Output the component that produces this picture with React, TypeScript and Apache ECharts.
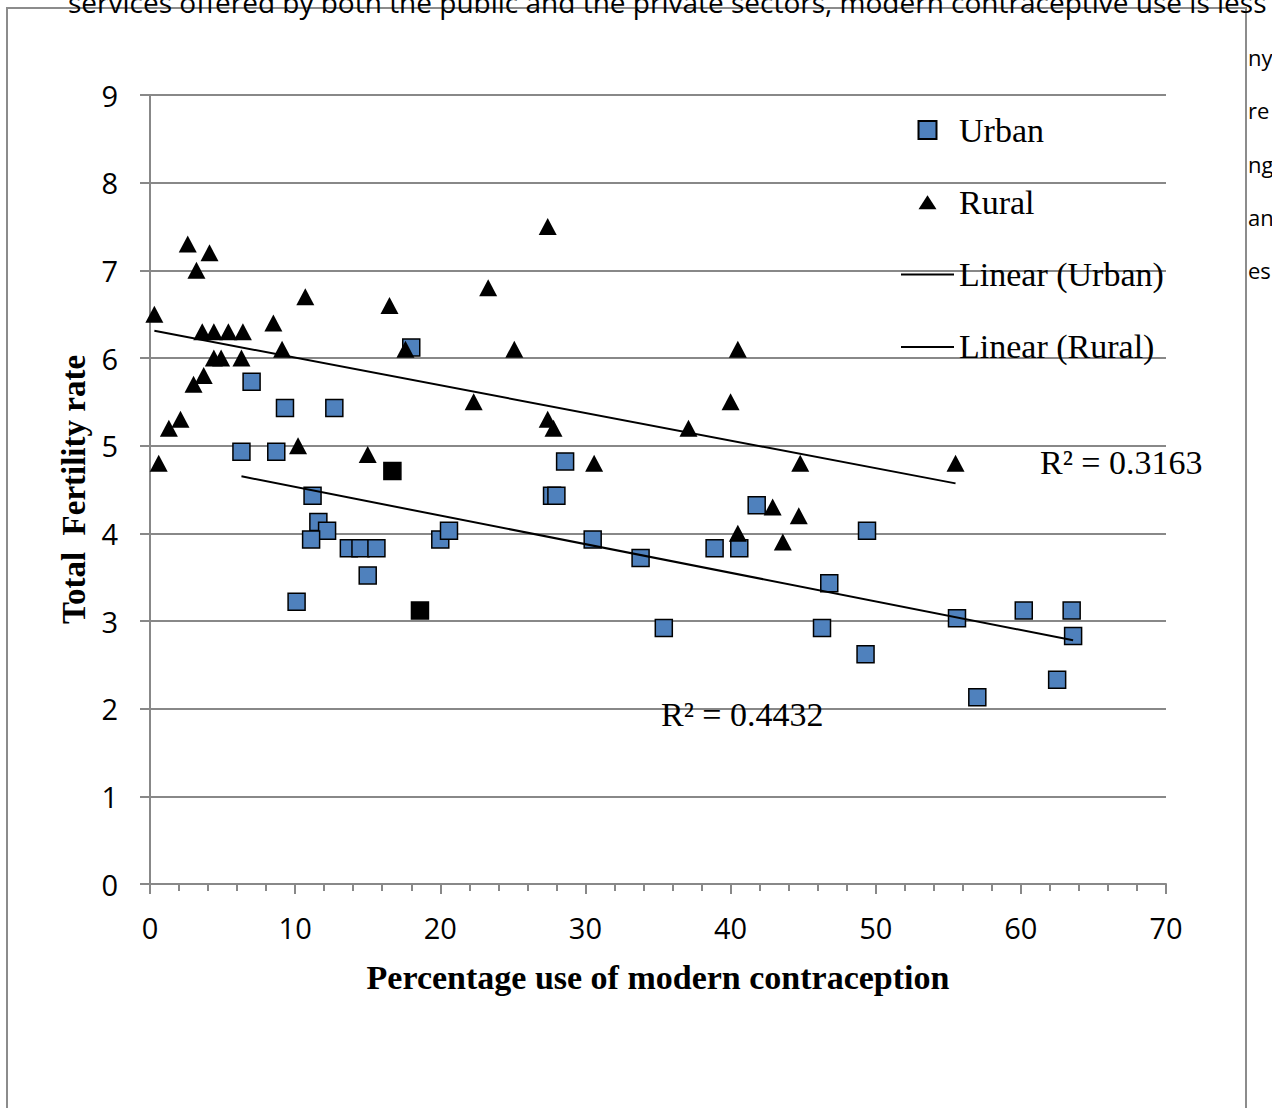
import React, { useEffect, useRef } from "react";
import * as echarts from "echarts";

// ---- data ----
const urbanPoints: number[][] = [
  [18.0, 6.12], [7.0, 5.73], [9.3, 5.43], [12.7, 5.43], [6.3, 4.93], [8.7, 4.93],
  [11.2, 4.43], [11.6, 4.13], [12.2, 4.03], [11.1, 3.93], [13.7, 3.83], [14.5, 3.83],
  [15.6, 3.83], [15.0, 3.52], [10.1, 3.22], [20.0, 3.93], [20.6, 4.03], [28.6, 4.82],
  [27.7, 4.43], [28.0, 4.43], [30.5, 3.93], [33.8, 3.72], [35.4, 2.92], [38.9, 3.83],
  [40.6, 3.83], [41.8, 4.32], [49.4, 4.03], [46.8, 3.43], [46.3, 2.92], [49.3, 2.62],
  [55.6, 3.03], [57.0, 2.13], [60.2, 3.12], [63.5, 3.12], [63.6, 2.83], [62.5, 2.33],
];
// two Urban points drawn in black in the reference
const urbanHighlighted: number[][] = [[16.7, 4.71], [18.6, 3.12]];

const ruralPoints: number[][] = [
  [2.6, 7.3], [4.1, 7.2], [3.2, 7.0], [0.3, 6.5], [10.7, 6.7], [16.5, 6.6],
  [3.6, 6.3], [4.4, 6.3], [5.4, 6.3], [6.4, 6.3], [8.5, 6.4], [9.1, 6.1],
  [17.6, 6.1], [4.4, 6.0], [4.9, 6.0], [6.3, 6.0], [3.7, 5.8], [3.0, 5.7],
  [2.1, 5.3], [1.3, 5.2], [0.6, 4.8], [10.2, 5.0], [15.0, 4.9], [27.4, 7.5],
  [23.3, 6.8], [25.1, 6.1], [22.3, 5.5], [27.4, 5.3], [27.8, 5.2], [37.1, 5.2],
  [30.6, 4.8], [40.5, 6.1], [40.0, 5.5], [44.8, 4.8], [55.5, 4.8], [40.5, 4.0],
  [42.9, 4.3], [44.7, 4.2], [43.6, 3.9],
];

// trendline end points as drawn in the reference
const urbanTrend: number[][] = [[6.3, 4.65], [63.6, 2.78]];
const ruralTrend: number[][] = [[0.3, 6.31], [55.5, 4.57]];
const urbanR2 = "0.4432";
const ruralR2 = "0.3163";

const seriesNames = ["Urban", "Rural", "Linear (Urban)", "Linear (Rural)"];
const xAxisTitle = "Percentage use of modern contraception";
const yAxisTitle = "Total  Fertility rate";
const pageTextTop =
  "services offered by both the public and the private sectors, modern contraceptive use is less";
const pageTextRight = ["ny", "re", "ng", "an", "es"];

const SERIF = "'Liberation Serif', 'Times New Roman', serif";
const SANS = "'Open Sans', 'Noto Sans', sans-serif";
const GRID_GRAY = "#888888";

export default function App() {
  const ref = useRef<HTMLDivElement>(null);

  useEffect(() => {
    document.body.style.margin = "0";
    if (!ref.current) return;
    const chart = echarts.init(ref.current, null, { renderer: "svg" });

    const graphic: any[] = [
      {
        type: "rect",
        z: -1,
        shape: { x: 7, y: 8, width: 1239, height: 1130 },
        style: { fill: "#ffffff", stroke: "#8c8c8c", lineWidth: 2 },
        silent: true,
      },
      {
        type: "text",
        x: 68,
        y: 2,
        z: 1,
        style: {
          text: pageTextTop,
          fontFamily: SANS,
          fontSize: 28,
          fill: "#000",
          align: "left",
          verticalAlign: "middle",
        },
      },
      ...pageTextRight.map((t, i) => ({
        type: "text",
        x: 1248,
        y: 57 + i * 53.3,
        z: 1,
        style: {
          text: t,
          fontFamily: SANS,
          fontSize: 22,
          fill: "#000",
          align: "left",
          verticalAlign: "middle",
        },
      })),
      {
        type: "text",
        x: 1040,
        y: 462,
        z: 10,
        style: {
          text: "R² = " + ruralR2,
          fontFamily: SERIF,
          fontSize: 34,
          fill: "#000",
          align: "left",
          verticalAlign: "middle",
        },
      },
      {
        type: "text",
        x: 661,
        y: 714,
        z: 10,
        style: {
          text: "R² = " + urbanR2,
          fontFamily: SERIF,
          fontSize: 34,
          fill: "#000",
          align: "left",
          verticalAlign: "middle",
        },
      },
    ];

    const option: any = {
      animation: false,
      backgroundColor: "#ffffff",
      grid: { left: 150, top: 95, width: 1016, height: 789, containLabel: false },
      legend: {
        orient: "vertical",
        left: 900,
        top: 113,
        padding: 0,
        itemWidth: 53,
        itemHeight: 18,
        itemGap: 38.3,
        symbolKeepAspect: true,
        data: [
          { name: seriesNames[0], icon: "path://M0,0h18v18h-18z" },
          { name: seriesNames[1], icon: "path://M0,0M18,18M0,16L9,2L18,16Z" },
          { name: seriesNames[2], itemStyle: { color: "transparent", borderWidth: 0 } },
          { name: seriesNames[3], itemStyle: { color: "transparent", borderWidth: 0 } },
        ],
        textStyle: { fontFamily: SERIF, fontSize: 34, color: "#000", lineHeight: 34 },
      },
      xAxis: {
        type: "value",
        min: 0,
        max: 70,
        interval: 10,
        name: xAxisTitle,
        nameLocation: "middle",
        nameGap: 76,
        nameTextStyle: {
          fontFamily: SERIF,
          fontSize: 34,
          fontWeight: "bold",
          color: "#000",
          lineHeight: 34,
        },
        axisLine: { show: true, onZero: false, lineStyle: { color: GRID_GRAY, width: 2 } },
        axisTick: { show: true, length: 10, lineStyle: { color: GRID_GRAY, width: 2 } },
        minorTick: { show: true, splitNumber: 5, length: 7, lineStyle: { color: GRID_GRAY, width: 2 } },
        splitLine: { show: false },
        axisLabel: { fontFamily: SANS, fontSize: 29, color: "#000", margin: 29, lineHeight: 29 },
      },
      yAxis: {
        type: "value",
        min: 0,
        max: 9,
        interval: 1,
        name: yAxisTitle,
        nameLocation: "middle",
        nameGap: 57,
        nameTextStyle: {
          fontFamily: SERIF,
          fontSize: 33,
          fontWeight: "bold",
          color: "#000",
          lineHeight: 33,
        },
        axisLine: { show: true, onZero: false, lineStyle: { color: GRID_GRAY, width: 2 } },
        axisTick: { show: true, length: 10, lineStyle: { color: GRID_GRAY, width: 2 } },
        splitLine: { show: true, lineStyle: { color: GRID_GRAY, width: 2 } },
        axisLabel: { fontFamily: SANS, fontSize: 29, color: "#000", margin: 32 },
      },
      series: [
        {
          name: seriesNames[0],
          type: "scatter",
          symbol: "rect",
          symbolSize: 17,
          z: 2,
          itemStyle: { color: "#4F81BD", borderColor: "#000", borderWidth: 1.5, opacity: 1 },
          data: [
            ...urbanPoints,
            ...urbanHighlighted.map((p) => ({ value: p, itemStyle: { color: "#000" } })),
          ],
        },
        {
          name: seriesNames[1],
          type: "scatter",
          symbol: "triangle",
          symbolSize: [18, 17],
          z: 3,
          itemStyle: { color: "#000", opacity: 1 },
          data: ruralPoints,
        },
        {
          name: seriesNames[2],
          type: "line",
          symbol: "none",
          z: 4,
          lineStyle: { color: "#000", width: 2 },
          itemStyle: { color: "#000" },
          data: urbanTrend,
        },
        {
          name: seriesNames[3],
          type: "line",
          symbol: "none",
          z: 4,
          lineStyle: { color: "#000", width: 2 },
          itemStyle: { color: "#000" },
          data: ruralTrend,
        },
      ],
      graphic,
    };

    chart.setOption(option);
    return () => chart.dispose();
  }, []);

  return <div ref={ref} style={{ width: 1272, height: 1108 }} />;
}
